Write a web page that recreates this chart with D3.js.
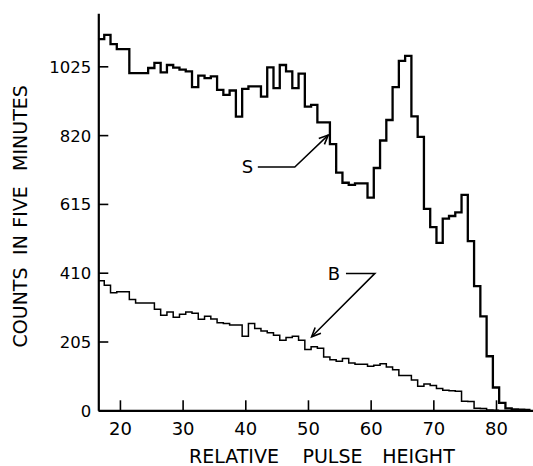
<!DOCTYPE html>
<html><head><meta charset="utf-8">
<script src="https://cdn.jsdelivr.net/npm/d3@7"></script>
<style>body{margin:0;background:#fff}svg{display:block}</style>
</head><body><svg id="c" width="533" height="466"></svg>
<script>
// ---- data ----
const sChannels = d3.range(17, 86);
const sCounts = [1106,1119,1091,1076,1076,1005,1005,1005,1020,1035,
  1007,1029,1021,1015,1010,963,997,990,995,955,
  940,953,875,958,965,965,935,1022,960,1029,
  1010,960,1003,905,910,858,858,793,708,678,
  672,676,676,634,722,804,865,963,1041,1056,
  876,815,600,546,499,571,579,590,642,504,
  370,280,161,68,22,6,3,2,1];
const bChannels = d3.range(17, 81);
const bCounts = [386,373,350,353,353,330,320,320,320,301,
  283,293,277,286,293,289,271,280,272,261,
  259,254,254,221,259,244,236,231,224,209,
  217,221,209,181,189,185,159,151,146,154,
  141,137,137,131,134,139,129,121,104,104,
  90,72,78,74,65,60,58,57,27,26,
  6,5,1,0];
const xTicks = [20,30,40,50,60,70,80];
const yTicks = [0,205,410,615,820,1025];
const xTitleWords = ["RELATIVE","PULSE","HEIGHT"];
const yTitleWords = ["COUNTS","IN","FIVE","MINUTES"];
const annotations = [
  {label:"S", lx:40.34, ly:725, path:[[42.0,725],[47.9,725],[53.23,820]]},
  {label:"B", lx:54.14, ly:408, path:[[56.06,408],[60.68,408],[50.58,219]]}
];

// ---- scales ----
const x = d3.scaleLinear().domain([16.55, 85.9]).range([98.3, 533]);
const y = d3.scaleLinear().domain([0, 1183]).range([410.3, 13.3]);
const svg = d3.select("#c");
const font = "DejaVu Sans";

// ---- axes ----
const gx = svg.append("g").attr("transform", `translate(0,${y(0)})`)
  .call(d3.axisBottom(x).tickValues(xTicks).tickFormat(d3.format("d"))
    .tickSize(-10).tickSizeOuter(0).tickPadding(12));
const gy = svg.append("g").attr("transform", `translate(${x(16.55)},0)`)
  .call(d3.axisLeft(y).tickValues(yTicks).tickFormat(d3.format("d"))
    .tickSize(-10).tickSizeOuter(0).tickPadding(7));
[gx, gy].forEach(g => {
  g.select(".domain").attr("stroke", "#000").attr("stroke-width", 2.2);
  g.selectAll(".tick line").attr("stroke", "#000").attr("stroke-width", 1.6);
  g.selectAll(".tick text").attr("fill", "#000").attr("font-family", font);
});
gx.selectAll(".tick text").attr("font-size", 18);
gy.selectAll(".tick text").attr("font-size", 16.5).attr("dy", "0.36em");

// ---- step curves ----
function stepPts(ch, vals) {
  const pts = ch.map((c, i) => [c - 0.5, vals[i]]);
  pts.push([ch[ch.length - 1] + 0.5, vals[vals.length - 1]]);
  return pts;
}
const line = d3.line().x(d => x(d[0])).y(d => y(d[1])).curve(d3.curveStepAfter);
svg.append("path").datum(stepPts(bChannels, bCounts)).attr("d", line)
  .attr("fill", "none").attr("stroke", "#000").attr("stroke-width", 1.5);
svg.append("path").datum(stepPts(sChannels, sCounts)).attr("d", line)
  .attr("fill", "none").attr("stroke", "#000").attr("stroke-width", 2.3);

// ---- annotations ----
const aline = d3.line().x(d => x(d[0])).y(d => y(d[1]));
annotations.forEach(a => {
  svg.append("text").attr("x", x(a.lx)).attr("y", y(a.ly) + 6.5)
    .attr("text-anchor", "middle").attr("font-family", font).attr("font-size", 18).text(a.label);
  svg.append("path").attr("d", aline(a.path)).attr("fill", "none")
    .attr("stroke", "#000").attr("stroke-width", 1.5);
  const p1 = a.path[a.path.length - 2], p2 = a.path[a.path.length - 1];
  const X1 = x(p1[0]), Y1 = y(p1[1]), X2 = x(p2[0]), Y2 = y(p2[1]);
  const ang = Math.atan2(Y2 - Y1, X2 - X1), L = 10, sp = 0.42;
  const h = [[X2 - L * Math.cos(ang - sp), Y2 - L * Math.sin(ang - sp)], [X2, Y2],
             [X2 - L * Math.cos(ang + sp), Y2 - L * Math.sin(ang + sp)]];
  svg.append("path").attr("d", d3.line()(h)).attr("fill", "none")
    .attr("stroke", "#000").attr("stroke-width", 1.6);
});

// ---- titles ----
const xWordCenters = [234, 332.5, 418.5];
xTitleWords.forEach((w, i) => {
  svg.append("text").attr("x", xWordCenters[i]).attr("y", 463)
    .attr("text-anchor", "middle").attr("font-family", font).attr("font-size", 19).text(w);
});
const yWordCenters = [307.5, 245, 207, 128];
yTitleWords.forEach((w, i) => {
  svg.append("text").attr("transform", `translate(27,${yWordCenters[i]}) rotate(-90)`)
    .attr("text-anchor", "middle").attr("font-family", font).attr("font-size", 19).text(w);
});
</script></body></html>
